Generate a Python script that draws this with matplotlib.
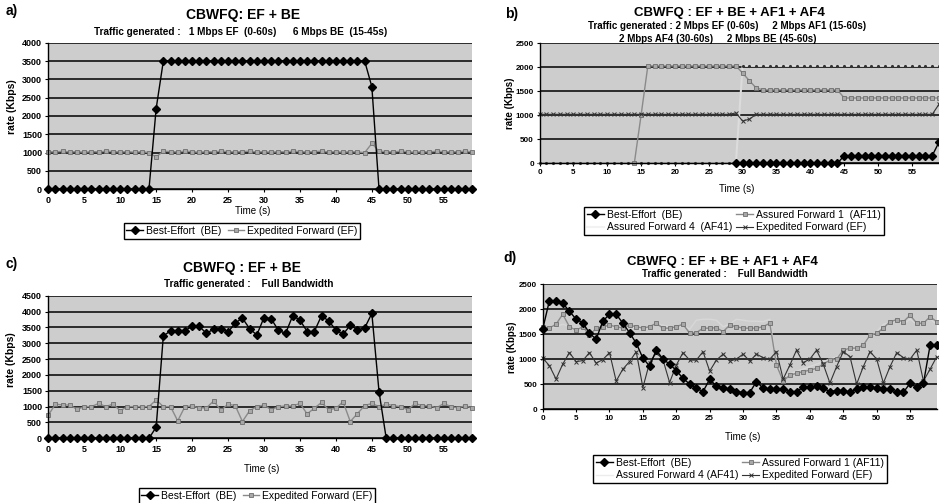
import numpy as np
import matplotlib
matplotlib.use("Agg")
import matplotlib.pyplot as plt
from matplotlib.lines import Line2D

plt.rcParams['font.family'] = ['Liberation Sans', 'DejaVu Sans']

N = np.nan
time_s = list(range(60))
x_ticks = [0, 5, 10, 15, 20, 25, 30, 35, 40, 45, 50, 55]

# ---------- a) ----------
a_be = [0, 0, 0, 0, 0, 0, 0, 0, 0, 0, 0, 0, 0, 0, 0, 2200,
        3500, 3500, 3500, 3500, 3500, 3500, 3500, 3500, 3500, 3500,
        3500, 3500, 3500, 3500, 3500, 3500, 3500, 3500, 3500, 3500,
        3500, 3500, 3500, 3500, 3500, 3500, 3500, 3500, 3500, 2800,
        0, 0, 0, 0, 0, 0, 0, 0, 0, 0, 0, 0, 0, 0]
a_ef = [1030, 1020, 1040, 1020, 1030, 1010, 1030, 1020, 1040, 1030,
        1020, 1030, 1010, 1030, 1000, 880, 1040, 1030, 1020, 1040,
        1030, 1010, 1030, 1020, 1040, 1030, 1020, 1030, 1040, 1020,
        1030, 1010, 1030, 1020, 1040, 1030, 1020, 1030, 1040, 1020,
        1030, 1010, 1030, 1020, 1000, 1250, 1040, 1030, 1020, 1040,
        1030, 1010, 1030, 1020, 1040, 1030, 1020, 1030, 1040, 1020]

# ---------- b) ----------
b_be = [N] * 29 + [0, 0, 0, 0, 0, 0, 0, 0, 0, 0, 0, 0, 0, 0, 0, 0,
                   160, 160, 160, 160, 160, 160, 160, 160, 160, 160,
                   160, 160, 160, 160, 440]
b_af1 = [N] * 14 + [0, 1000,
                    2030, 2030, 2030, 2030, 2030, 2030, 2030, 2030, 2030, 2030,
                    2030, 2030, 2030, 2030, 1880, 1720, 1570, 1530, 1530, 1530,
                    1530, 1530, 1530, 1530, 1530, 1530, 1530, 1530, 1530, 1360,
                    1360, 1360, 1360, 1360, 1360, 1360, 1360, 1360, 1360, 1360,
                    1360, 1360, 1360, 1360]
b_af4 = [0, 0, 0, 0, 0, 0, 0, 0, 0, 0, 0, 0, 0, 0, 0, 0, 0, 0, 0, 0,
         0, 0, 0, 0, 0, 0, 0, 0, 0, 0,
         2030, 2030, 2030, 2030, 2030, 2030, 2030, 2030, 2030, 2030,
         2030, 2030, 2030, 2030, 2030, 2030, 2030, 2030, 2030, 2030,
         2030, 2030, 2030, 2030, 2030, 2030, 2030, 2030, 2030, 2030]
b_ef = [1020, 1020, 1020, 1020, 1020, 1020, 1020, 1020, 1020, 1020,
        1020, 1020, 1020, 1020, 1020, 1020, 1020, 1020, 1020, 1020,
        1020, 1020, 1020, 1020, 1020, 1020, 1020, 1020, 1020, 1050,
        880, 920, 1020, 1020, 1020, 1020, 1020, 1020, 1020, 1020,
        1020, 1020, 1020, 1020, 1020, 1020, 1020, 1020, 1020, 1020,
        1020, 1020, 1020, 1020, 1020, 1020, 1020, 1020, 1020, 1230]

# ---------- c) ----------
c_be = [0, 0, 0, 0, 0, 0, 0, 0, 0, 0, 0, 0, 0, 0, 0, 350,
        3230, 3390, 3400, 3400, 3530, 3530, 3310, 3450, 3460, 3350,
        3640, 3790, 3460, 3260, 3810, 3770, 3410, 3310, 3870, 3730,
        3370, 3370, 3870, 3700, 3420, 3280, 3570, 3420, 3480, 3940,
        1470, 0, 0, 0, 0, 0, 0, 0, 0, 0, 0, 0, 0, 0]
c_ef = [730, 1080, 1050, 1050, 910, 1000, 1000, 1100, 1000, 1080,
        870, 1000, 1000, 1000, 1000, 1210, 1000, 1000, 550, 1000,
        1020, 960, 960, 1180, 880, 1080, 1030, 530, 870, 1000,
        1050, 900, 1000, 1020, 1020, 1100, 770, 950, 1130, 900,
        950, 1150, 530, 780, 1030, 1100, 1000, 1080, 1030, 1000,
        900, 1100, 1030, 1030, 960, 1100, 1000, 960, 1030, 950]

# ---------- d) ----------
d_be = [1600, 2170, 2170, 2120, 1960, 1800, 1730, 1520, 1400, 1760,
        1900, 1900, 1720, 1530, 1320, 1020, 860, 1180, 1000, 900,
        770, 615, 500, 415, 350, 595, 460, 415, 400, 350,
        330, 330, 550, 415, 400, 395, 395, 350, 350, 435,
        435, 460, 415, 350, 370, 370, 340, 395, 450, 450,
        415, 395, 395, 335, 335, 515, 435, 515, 1280, 1280]
d_af1 = [1650, 1620, 1700, 1900, 1650, 1580, 1650, 1480, 1620, 1650,
         1680, 1650, 1620, 1680, 1650, 1620, 1650, 1720, 1620, 1620,
         1650, 1700, 1520, 1530, 1620, 1620, 1630, 1550, 1680, 1650,
         1620, 1620, 1620, 1650, 1720, 880, 560, 680, 715, 750,
         780, 815, 900, 980, 1000, 1180, 1220, 1220, 1280, 1480,
         1520, 1620, 1750, 1790, 1750, 1880, 1720, 1720, 1850, 1750]
d_af4 = [1600, 1620, 1650, 1700, 1650, 1600, 1650, 1550, 1600, 1620,
         1650, 1650, 1600, 1650, 1620, 1600, 1650, 1700, 1680, 1650,
         1620, 1680, 1600, 1780, 1800, 1800, 1780, 1650, 1700, 1800,
         1780, 1760, 1760, 1750, 1800, 900, 650, 700, 760, 800,
         850, 900, 950, 1000, 1050, 1100, 1150, 1200, 1300, 1450,
         1550, 1700, 1720, 1780, 1700, 1800, 1700, 1750, 1800, 1700]
d_ef = [1020, 870, 600, 900, 1130, 950, 970, 1130, 920, 990,
        1130, 560, 800, 950, 1150, 430, 930, 1130, 990, 530,
        880, 1130, 980, 980, 1150, 760, 980, 1100, 960, 1000,
        1100, 960, 1100, 1030, 1000, 1150, 600, 880, 1180, 930,
        1000, 1180, 900, 520, 850, 1150, 1050, 500, 850, 1150,
        1000, 520, 850, 1130, 1030, 1000, 1180, 560, 800, 1050]

W, H = 939, 503
fig = plt.figure(figsize=(W / 100, H / 100), dpi=100)
BG = '#cdcdcd'


def ax_at(l, r, top, bot):
    return fig.add_axes([l / W, 1 - bot / H, (r - l) / W, (bot - top) / H])


def ftext(x, y, s, **kw):
    kw.setdefault('ha', 'center')
    kw.setdefault('va', 'center')
    fig.text(x / W, 1 - y / H, s, **kw)


def style(ax, ymax, ystep, tsize=6.5, pad=2):
    ax.set_facecolor(BG)
    ax.set_xlim(0, 59)
    ax.set_ylim(0, ymax)
    ax.set_yticks(np.arange(0, ymax + 1, ystep))
    ax.set_xticks(x_ticks)
    ax.yaxis.grid(True, color='black', linewidth=1.1)
    ax.set_axisbelow(True)
    for s in ('top', 'right'):
        ax.spines[s].set_visible(False)
    for s in ('left', 'bottom'):
        ax.spines[s].set_color('black')
        ax.spines[s].set_linewidth(1.0)
    ax.tick_params(axis='both', labelsize=tsize, length=2.5, width=0.8, pad=pad)
    for lab in ax.get_xticklabels() + ax.get_yticklabels():
        lab.set_fontweight('bold')


be_kw = dict(color='black', lw=1.0, marker='D', ms=4, mfc='black', mec='black')
efsq_kw = dict(color='#8a8a8a', lw=1.0, marker='s', ms=3.5, mfc='#a8a8a8', mec='#6e6e6e', mew=0.6)
af1_kw = dict(color='#8a8a8a', lw=1.0, marker='s', ms=3.5, mfc='#a8a8a8', mec='#6e6e6e', mew=0.6)
af4_kw = dict(color='#dcdcdc', lw=1.5, marker='.', ms=2.5, mfc='#333333', mec='#333333')
efx_kw = dict(color='#333333', lw=0.8, marker='x', ms=3.5, mec='#333333', mew=0.7)

# ----- a -----
ax = ax_at(48.3, 472.5, 42.7, 189.3)
style(ax, 4000, 500)
ax.plot(time_s, a_ef, clip_on=False, **efsq_kw)
ax.plot(time_s, a_be, clip_on=False, **be_kw)
h = [Line2D([], [], **be_kw), Line2D([], [], **efsq_kw)]
fig.legend(h, ['Best-Effort  (BE)', 'Expedited Forward (EF)'], loc='center',
           bbox_to_anchor=(242 / W, 1 - 231 / H), ncol=2, fontsize=7.5,
           frameon=True, fancybox=False, edgecolor='black', framealpha=1,
           handlelength=1.6, handletextpad=0.3, columnspacing=0.6,
           borderpad=0.25)
ftext(12, 11, 'a)', fontsize=10, fontweight='bold')
ftext(243, 15, 'CBWFQ: EF + BE', fontsize=10, fontweight='bold')
ftext(241, 32, 'Traffic generated :   1 Mbps EF  (0-60s)      6 Mbps BE  (15-45s)',
      fontsize=7.2, fontweight='bold')
ftext(12, 107, 'rate (Kbps)', rotation=90, fontsize=7.5, fontweight='bold')
ftext(253, 211, 'Time (s)', fontsize=7)

# ----- b -----
ax = ax_at(539.5, 939, 43.3, 163.3)
style(ax, 2500, 500, tsize=5.8, pad=1.5)
ax.plot(time_s, b_af4, clip_on=False, **af4_kw)
ax.plot(time_s, b_af1, clip_on=False, **af1_kw)
ax.plot(time_s, b_ef, clip_on=False, **efx_kw)
ax.plot(time_s, b_be, clip_on=False, **be_kw)
h = [Line2D([], [], **be_kw), Line2D([], [], color='#f2f2f2', lw=1.5),
     Line2D([], [], **af1_kw), Line2D([], [], **efx_kw)]
lbls = ['Best-Effort  (BE)', 'Assured Forward 4  (AF41)',
        'Assured Forward 1  (AF11)', 'Expedited Forward (EF)']
fig.legend(h, lbls, loc='center', bbox_to_anchor=(734 / W, 1 - 221 / H),
           ncol=2, fontsize=7.5, frameon=True, fancybox=False,
           edgecolor='black', framealpha=1, handlelength=1.6,
           handletextpad=0.3, columnspacing=0.4, borderpad=0.25,
           labelspacing=0.25)
ftext(512, 14, 'b)', fontsize=10, fontweight='bold')
ftext(729, 13, 'CBWFQ : EF + BE + AF1 + AF4', fontsize=9.5, fontweight='bold')
ftext(727, 26, 'Traffic generated : 2 Mbps EF (0-60s)     2 Mbps AF1 (15-60s)',
      fontsize=7, fontweight='bold')
ftext(718, 39, '2 Mbps AF4 (30-60s)     2 Mbps BE (45-60s)',
      fontsize=7, fontweight='bold')
ftext(510, 103, 'rate (Kbps)', rotation=90, fontsize=7, fontweight='bold')
ftext(737, 189, 'Time (s)', fontsize=7)

# ----- c -----
ax = ax_at(48.3, 472.5, 295.7, 438.3)
style(ax, 4500, 500)
ax.plot(time_s, c_ef, clip_on=False, **efsq_kw)
ax.plot(time_s, c_be, clip_on=False, **be_kw)
h = [Line2D([], [], **be_kw), Line2D([], [], **efsq_kw)]
fig.legend(h, ['Best-Effort  (BE)', 'Expedited Forward (EF)'], loc='center',
           bbox_to_anchor=(257 / W, 1 - 496 / H), ncol=2, fontsize=7.5,
           frameon=True, fancybox=False, edgecolor='black', framealpha=1,
           handlelength=1.6, handletextpad=0.3, columnspacing=0.6,
           borderpad=0.25)
ftext(12, 264, 'c)', fontsize=10, fontweight='bold')
ftext(242, 268, 'CBWFQ : EF + BE', fontsize=10, fontweight='bold')
ftext(249, 284, 'Traffic generated :    Full Bandwidth', fontsize=7.2,
      fontweight='bold')
ftext(11, 360, 'rate (Kbps)', rotation=90, fontsize=7.5, fontweight='bold')
ftext(262, 469, 'Time (s)', fontsize=7)

# ----- d -----
ax = ax_at(542.7, 936.8, 284.3, 409)
style(ax, 2500, 500, tsize=5.8, pad=1.5)
ax.plot(time_s, d_af4, clip_on=False, color='#d8d8d8', lw=1.0)
ax.plot(time_s, d_af1, clip_on=False, **af1_kw)
ax.plot(time_s, d_ef, clip_on=False, **efx_kw)
ax.plot(time_s, d_be, clip_on=False, **be_kw)
h = [Line2D([], [], **be_kw), Line2D([], [], color='#ececec', lw=1.0),
     Line2D([], [], **af1_kw), Line2D([], [], **efx_kw)]
lbls = ['Best-Effort  (BE)', 'Assured Forward 4 (AF41)',
        'Assured Forward 1 (AF11)', 'Expedited Forward (EF)']
fig.legend(h, lbls, loc='center', bbox_to_anchor=(740 / W, 1 - 469 / H),
           ncol=2, fontsize=7.5, frameon=True, fancybox=False,
           edgecolor='black', framealpha=1, handlelength=1.6,
           handletextpad=0.3, columnspacing=0.4, borderpad=0.25,
           labelspacing=0.25)
ftext(510, 258, 'd)', fontsize=10, fontweight='bold')
ftext(722, 262, 'CBWFQ : EF + BE + AF1 + AF4', fontsize=9.5, fontweight='bold')
ftext(725, 274, 'Traffic generated :    Full Bandwidth', fontsize=7,
      fontweight='bold')
ftext(512, 347, 'rate (Kbps)', rotation=90, fontsize=7, fontweight='bold')
ftext(743, 437, 'Time (s)', fontsize=7)

fig.savefig('out.png', dpi=100)
